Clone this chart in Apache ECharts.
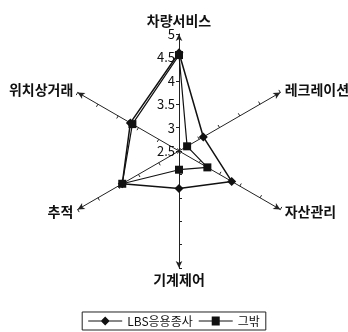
<!DOCTYPE html>
<html>
<head>
<meta charset="utf-8">
<style>
  html, body { margin: 0; padding: 0; background: #fff; }
  #main { width: 348px; height: 332px; }
</style>
<script src="https://cdn.jsdelivr.net/npm/echarts@6/dist/echarts.min.js"></script>
</head>
<body>
<div id="main"></div>
<script>
// 축 이름 (위에서부터 시계 반대 방향)
var indicators = ['차량서비스', '위치상거래', '추적', '기계제어', '자산관리', '레크레이션'];
var lbsValues = [4.6, 3.7, 3.9, 3.3, 3.8, 3.1];
var otherValues = [4.55, 3.65, 3.9, 2.9, 3.2, 2.7];
var axisMin = 2.5;
var axisMax = 5;

// 범례 아이콘: 선 + 마커
var iconDiamond = 'path://M0,4L34,4L34,5L0,5Z M17,0L21.5,4.5L17,9L12.5,4.5Z';
var iconSquare = 'path://M0,4L34,4L34,5L0,5Z M13,0L21,0L21,9L13,9Z';

var chart = echarts.init(document.getElementById('main'));
chart.setOption({
  animation: false,
  textStyle: { fontFamily: 'Noto Sans CJK KR' },
  legend: {
    bottom: 2,
    left: 'center',
    itemWidth: 34,
    itemHeight: 9,
    itemGap: 6,
    padding: [3, 6],
    borderColor: '#222',
    borderWidth: 1,
    textStyle: { color: '#111', fontSize: 12, fontFamily: 'Noto Sans CJK KR' },
    data: [
      { name: 'LBS응용종사', icon: iconDiamond },
      { name: '그밖', icon: iconSquare }
    ]
  },
  radar: {
    center: [179, 151],
    radius: 117,
    splitNumber: 5,
    shape: 'polygon',
    nameGap: 5,
    axisName: { color: '#111', fontSize: 14, fontWeight: 'bold', fontFamily: 'Noto Sans CJK KR' },
    splitLine: { show: false },
    splitArea: { show: false },
    axisLine: {
      lineStyle: { color: '#222', width: 1 },
      symbol: ['none', 'arrow'],
      symbolSize: [5, 7]
    },
    axisTick: { show: true, length: 3, lineStyle: { color: '#222' } },
    axisLabel: { show: false },
    indicator: indicators.map(function (name, i) {
      var item = { name: name, min: axisMin, max: axisMax };
      if (i === 0) {
        item.axisLabel = { show: true, color: '#111', fontSize: 13, margin: 4 };
      }
      return item;
    })
  },
  series: [{
    type: 'radar',
    symbolSize: 9,
    data: [{
      name: 'LBS응용종사',
      value: lbsValues,
      symbol: 'diamond',
      itemStyle: { color: '#111' },
      lineStyle: { color: '#111', width: 1.5 }
    }, {
      name: '그밖',
      value: otherValues,
      symbol: 'rect',
      symbolSize: 8,
      itemStyle: { color: '#111' },
      lineStyle: { color: '#111', width: 1.2 }
    }]
  }]
});
</script>
</body>
</html>
